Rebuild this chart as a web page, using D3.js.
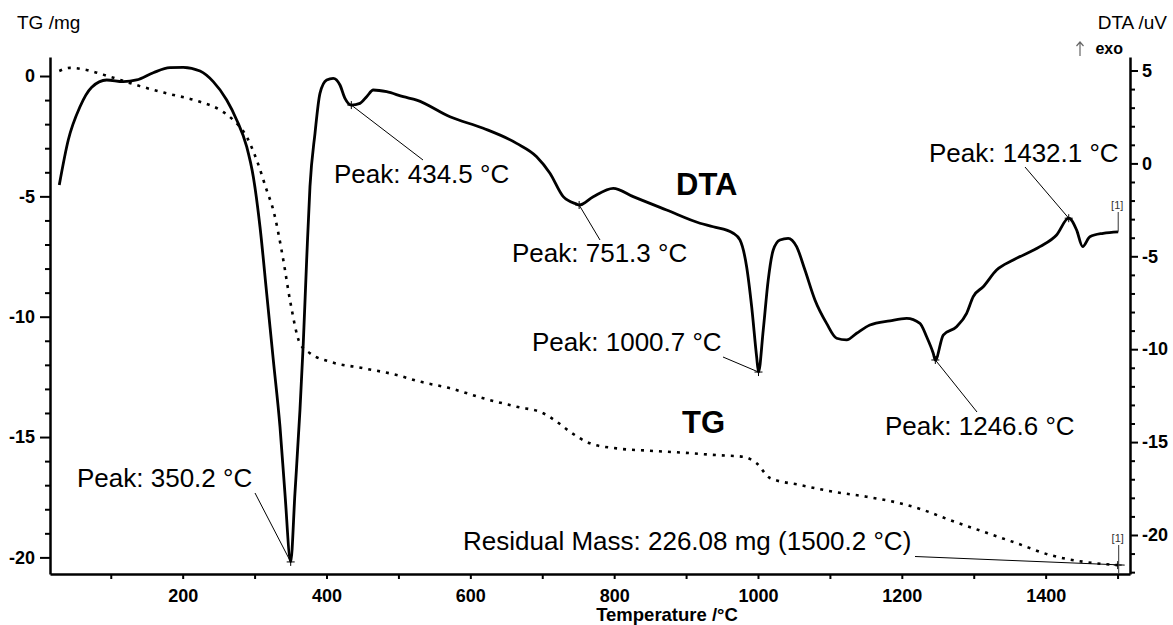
<!DOCTYPE html>
<html><head><meta charset="utf-8">
<script src="https://cdn.jsdelivr.net/npm/d3@7"></script>
<style>body{margin:0;background:#fff}svg{display:block}</style>
</head><body><svg id="c" width="1173" height="625"></svg>
<script>
// ---------- data ----------
const dtaTemps = [28.4,40.9,57.2,73.5,94.3,117.4,136,159.1,182.3,200.8,224.1,242.5,261.2,275.1,289,298.2,307.5,316.8,326,335.3,342.2,350.2,356.1,363.1,367.7,372.4,377,384,390.9,400.2,409.4,418.7,425.7,434.5,446.5,455.8,465,483.6,506.7,525.4,571.7,618,664.4,692.2,710.7,729.2,747.8,751.3,770.9,798.7,826.5,872.9,919.3,937.8,965.6,974.9,984.2,991.2,998.1,1000.7,1007.3,1014.2,1021.2,1030.5,1042,1053.7,1065.3,1079.2,1095.4,1109.3,1123.3,1137.2,1155.7,1183.5,1206.7,1225.2,1234.5,1243.7,1246.6,1257.6,1276.2,1290.1,1299.3,1313.2,1331.8,1354.9,1392,1415.2,1432.1,1443,1451.4,1461.5,1480,1500.9];
const dtaValues = [-1.16,1.26,3.05,4.10,4.49,4.40,4.49,4.88,5.15,5.17,4.97,4.40,3.41,2.34,0.90,-0.72,-3.41,-6.99,-10.58,-14.17,-17.76,-21.45,-17.76,-13.27,-9.68,-5.20,-1.25,1.62,3.77,4.49,4.58,4.22,3.50,3.14,3.23,3.59,3.95,3.86,3.59,3.41,2.51,1.89,1.08,0.36,-0.53,-1.79,-2.19,-2.24,-1.79,-1.34,-1.79,-2.51,-3.22,-3.41,-3.76,-4.12,-5.56,-7.71,-10.40,-11.23,-8.97,-6.28,-4.66,-4.12,-4.03,-4.48,-5.74,-7.35,-8.61,-9.41,-9.50,-9.14,-8.70,-8.47,-8.34,-8.61,-9.33,-10.22,-10.58,-9.24,-8.79,-8.07,-7.17,-6.64,-5.74,-5.20,-4.48,-3.85,-2.95,-3.58,-4.48,-3.95,-3.76,-3.68];
const tgTemps = [28.4,43.3,66.5,98.9,140.6,177.8,224.1,251.9,270.4,289,302.9,316.8,326,339.9,349.2,363.1,377,404.8,451.1,497.6,530,571.7,618,664.4,701.4,720,738.5,766.3,803.4,849.8,896.1,942.5,979.5,998.1,1016.6,1058.3,1104.6,1151.1,1197.3,1229.8,1266.9,1313.2,1359.6,1405.9,1452.2,1500.2];
const tgValues = [0.21,0.34,0.25,-0.03,-0.42,-0.72,-1.07,-1.41,-1.83,-2.52,-3.49,-4.74,-5.57,-7.64,-9.31,-11.11,-11.52,-11.87,-12.14,-12.42,-12.70,-12.97,-13.39,-13.74,-14.01,-14.36,-14.78,-15.26,-15.47,-15.57,-15.65,-15.75,-15.82,-16.09,-16.70,-16.99,-17.27,-17.48,-17.75,-18.03,-18.45,-18.93,-19.41,-19.90,-20.18,-20.32];
const xMajorTicks = [200,400,600,800,1000,1200,1400];
const xMinorTicks = [100,300,500,700,900,1100,1300,1500];
const tgMajorTicks = [0,-5,-10,-15,-20];
const tgMinorTicks = [-1,-2,-3,-4,-6,-7,-8,-9,-11,-12,-13,-14,-16,-17,-18,-19];
const dtaMajorTicks = [5,0,-5,-10,-15,-20];
const dtaMinorTicks = [4,3,2,1,-1,-2,-3,-4,-6,-7,-8,-9,-11,-12,-13,-14,-16,-17,-18,-19,-21,-22];
const peakTemps = [350.2,434.5,751.3,1000.7,1246.6,1432.1];
const peakDTA = [-21.45,3.14,-2.24,-11.23,-10.58,-2.95];
const peakLabels = ["Peak: 350.2 °C","Peak: 434.5 °C","Peak: 751.3 °C","Peak: 1000.7 °C","Peak: 1246.6 °C","Peak: 1432.1 °C"];
const residualLabel = "Residual Mass: 226.08 mg (1500.2 °C)";
const residualTemp = 1500.2, residualTG = -20.32;

// ---------- layout ----------
const L = {left:50, right:1130, top:57, bottom:574};
const peakLayout = [ // label baseline-left and leader end
  {tx:77, ty:487, lx:255, ly:493},
  {tx:334, ty:183, lx:423, ly:160},
  {tx:512, ty:262, lx:600, ly:240},
  {tx:532, ty:351, lx:723, ly:357},
  {tx:885, ty:435, lx:977, ly:412},
  {tx:929, ty:162, lx:1025, ly:167}
];
const FONT = "'Liberation Sans', Arial, Helvetica, sans-serif";

const svg = d3.select("#c");
const x = d3.scaleLinear().domain([15.5,1517.3]).range([L.left,L.right]);
const yTG = d3.scaleLinear().domain([0.79,-20.69]).range([L.top,L.bottom]);
const yDTA = d3.scaleLinear().domain([5.727,-22.1]).range([L.top,L.bottom]);

function styleAxis(g){
  g.selectAll("path.domain").attr("stroke","#000").attr("stroke-width",2.5);
  g.selectAll(".tick line").attr("stroke","#000").attr("stroke-width",2);
  g.selectAll("text").attr("fill","#000").style("font-family",FONT).style("font-size","18px").style("font-weight","bold");
}
// bottom axis
const gx = svg.append("g").attr("transform",`translate(0,${L.bottom})`)
  .call(d3.axisBottom(x).tickValues(xMajorTicks).tickSize(5).tickSizeOuter(0).tickPadding(10).tickFormat(d=>String(d)));
styleAxis(gx);
const gxm = svg.append("g").attr("transform",`translate(0,${L.bottom})`)
  .call(d3.axisBottom(x).tickValues(xMinorTicks).tickSize(5).tickFormat(""));
gxm.select("path.domain").remove(); styleAxis(gxm);
// left axis
const gl = svg.append("g").attr("transform",`translate(${L.left},0)`)
  .call(d3.axisLeft(yTG).tickValues(tgMajorTicks).tickSize(10).tickSizeOuter(0).tickPadding(5).tickFormat(d=>String(d)));
styleAxis(gl);
const glm = svg.append("g").attr("transform",`translate(${L.left},0)`)
  .call(d3.axisLeft(yTG).tickValues(tgMinorTicks).tickSize(5).tickFormat(""));
glm.select("path.domain").remove(); styleAxis(glm);
// right axis
const gr = svg.append("g").attr("transform",`translate(${L.right},0)`)
  .call(d3.axisRight(yDTA).tickValues(dtaMajorTicks).tickSize(8).tickSizeOuter(0).tickPadding(4).tickFormat(d=>String(d)));
styleAxis(gr);
const grm = svg.append("g").attr("transform",`translate(${L.right},0)`)
  .call(d3.axisRight(yDTA).tickValues(dtaMinorTicks).tickSize(5).tickFormat(""));
grm.select("path.domain").remove(); styleAxis(grm);

// axis titles
const txt = (s,xx,yy,size,weight,anchor) => svg.append("text").attr("x",xx).attr("y",yy)
  .attr("text-anchor",anchor||"start").style("font-family",FONT).style("font-size",size+"px")
  .style("font-weight",weight||"normal").attr("fill","#000").text(s);
txt("TG /mg",17,29,19,"normal");
txt("DTA /uV",1167,29,19,"normal","end");
txt("exo",1123,54,16,"bold","end");
// exo arrow
svg.append("path").attr("d","M1080,56V42M1076.5,46L1080,42L1083.5,46")
  .attr("fill","none").attr("stroke","#666").attr("stroke-width",1.2);
txt("Temperature /°C",667,621,18.5,"bold","middle");

// curves
const dtaData = dtaTemps.map((t,i)=>[t,dtaValues[i]]);
const tgData = tgTemps.map((t,i)=>[t,tgValues[i]]);
svg.append("path").datum(tgData)
  .attr("d",d3.line().x(d=>x(d[0])).y(d=>yTG(d[1])).curve(d3.curveMonotoneX))
  .attr("fill","none").attr("stroke","#000").attr("stroke-width",2.6).attr("stroke-dasharray","3,6");
svg.append("path").datum(dtaData)
  .attr("d",d3.line().x(d=>x(d[0])).y(d=>yDTA(d[1])).curve(d3.curveMonotoneX))
  .attr("fill","none").attr("stroke","#000").attr("stroke-width",2.8).attr("stroke-linejoin","round");

// peak annotations
peakTemps.forEach((t,i)=>{
  const px = x(t), py = yDTA(peakDTA[i]), p = peakLayout[i];
  svg.append("line").attr("x1",px).attr("y1",py).attr("x2",p.lx).attr("y2",p.ly).attr("stroke","#000").attr("stroke-width",1);
  svg.append("path").attr("d",`M${px-4},${py}H${px+4}M${px},${py-4}V${py+4}`).attr("stroke","#000").attr("stroke-width",1);
  txt(peakLabels[i],p.tx,p.ty,26,"normal");
});

// residual mass
const rx = x(residualTemp), ry = yTG(residualTG);
svg.append("polyline").attr("points",`915,556.5 1000,560 ${rx+7},${ry}`).attr("fill","none").attr("stroke","#000").attr("stroke-width",1);
svg.append("path").attr("d",`M${rx-4},${ry}H${rx+4}M${rx},${ry-4}V${ry+4}`).attr("stroke","#000").attr("stroke-width",1);
txt(residualLabel,463,550,26,"normal");

// [1] end markers
const dEnd = dtaData[dtaData.length-1];
const dex = x(dEnd[0]), dey = yDTA(dEnd[1]);
svg.append("line").attr("x1",dex).attr("y1",212).attr("x2",dex).attr("y2",dey).attr("stroke","#333").attr("stroke-width",1);
txt("[1]",dex-1,209,11,"normal","middle").attr("fill","#333");
svg.append("line").attr("x1",rx+1).attr("y1",545).attr("x2",rx+1).attr("y2",L.bottom-1).attr("stroke","#333").attr("stroke-width",1);
txt("[1]",rx,542,11,"normal","middle").attr("fill","#333");

// series labels
txt("DTA",676,195,31,"bold");
txt("TG",682,433,31,"bold");
</script></body></html>
